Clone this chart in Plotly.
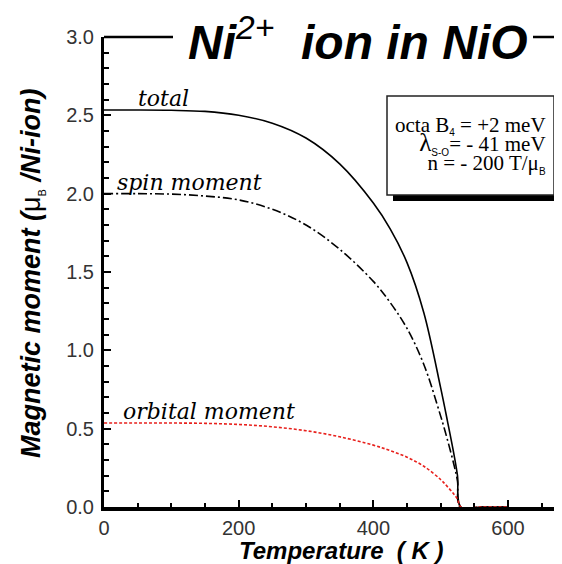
import plotly.graph_objects as go

# ---- data ----
T_total = [0, 50, 100, 150, 200, 250, 300, 350, 400, 425, 450, 475, 500, 510, 520, 525, 530, 560, 600]
M_total = [2.534, 2.534, 2.532, 2.525, 2.50, 2.45, 2.355, 2.19, 1.94, 1.775, 1.56, 1.24, 0.76, 0.55, 0.33, 0.20, 0.0, 0.0, 0.0]

T_spin = [0, 50, 100, 150, 200, 250, 300, 350, 400, 425, 450, 475, 500, 510, 520, 525, 529, 560, 600]
M_spin = [2.0, 2.0, 1.997, 1.985, 1.96, 1.90, 1.80, 1.645, 1.44, 1.305, 1.14, 0.91, 0.58, 0.43, 0.265, 0.165, 0.0, 0.0, 0.0]

T_orb = [0, 50, 100, 150, 200, 250, 300, 350, 400, 425, 450, 475, 500, 510, 520, 525, 530, 560, 600]
M_orb = [0.536, 0.536, 0.536, 0.534, 0.527, 0.512, 0.487, 0.448, 0.395, 0.36, 0.318, 0.26, 0.175, 0.13, 0.08, 0.05, 0.0, 0.0, 0.0]

x_ticks = [0, 200, 400, 600]
y_ticks = [0.0, 0.5, 1.0, 1.5, 2.0, 2.5, 3.0]
y_tick_labels = ["0.0", "0.5", "1.0", "1.5", "2.0", "2.5", "3.0"]

title_text = "<b><i>Ni</i></b><i><sup>2+</sup></i><b><i>\u00a0 ion in NiO</i></b>"
x_title = "<b><i>Temperature\u00a0\u00a0(\u00a0K\u00a0)</i></b>"
y_title = ("<b><i>Magnetic moment (</i></b>μ<sub><span style='font-size:11px'>B</span></sub>"
           "<b><i>\u00a0/Ni-ion)</i></b>")
small_sub = "<sub><span style='font-size:10px;font-family:Liberation Sans'>{}</span></sub>"
line_span = "<span style='font-size:21px'>{}</span>"
box_lines = ["octa B" + small_sub.format("4") + " = +2 meV",
             "<span style='font-size:25px'>λ</span>" + small_sub.format("S-O") + "= - 41 meV",
             "n = - 200 T/μ" + small_sub.format("B")]
box_text = "<br>".join(line_span.format(s) for s in box_lines)
curve_labels = ["total", "spin moment", "orbital moment"]

# ---- figure ----
W, H = 562, 564
L, R, T, B = 96, 0, 29, 65
pw, ph = W - L - R, H - T - B
px_per_K = 404 / 600.0


def px_x(p):
    return (p - L) / pw


def px_y(p):
    return (H - B - p) / ph


fig = go.Figure()
fig.add_trace(go.Scatter(x=T_total, y=M_total, mode="lines",
                         line=dict(color="black", width=1.6, shape="spline", smoothing=1.0)))
fig.add_trace(go.Scatter(x=T_spin, y=M_spin, mode="lines",
                         line=dict(color="black", width=1.6, dash="9px,3px,2px,3px",
                                   shape="spline", smoothing=1.0)))
fig.add_trace(go.Scatter(x=T_orb, y=M_orb, mode="lines",
                         line=dict(color="#e8201c", width=1.6, dash="3px,2px",
                                   shape="spline", smoothing=1.0)))

serif_i = dict(family="DejaVu Serif", size=22, color="black")
label_pos = [(47, M_total[0]), (17, M_spin[0]), (25, M_orb[0])]
for lab, (lx, ly) in zip(curve_labels, label_pos):
    fig.add_annotation(x=lx, y=ly, xref="x", yref="y", text="<i>" + lab + "</i>",
                       showarrow=False, xanchor="left", yanchor="bottom", yshift=-3,
                       font=serif_i)

# parameter box with shadow
fig.add_shape(type="rect", xref="paper", yref="paper",
              x0=px_x(385), x1=px_x(552), y0=px_y(193), y1=px_y(94),
              fillcolor="black", line=dict(color="black", width=0), layer="above")
fig.add_shape(type="rect", xref="paper", yref="paper",
              x0=px_x(379), x1=px_x(546), y0=px_y(187), y1=px_y(88),
              fillcolor="white", line=dict(color="#222", width=1.5), layer="above")

fig.add_annotation(x=px_x(539), y=px_y(137), xref="paper", yref="paper", text=box_text,
                   showarrow=False, xanchor="right", yanchor="middle", align="right",
                   font=dict(family="Liberation Serif", size=14.8, color="black"),
                   borderpad=0)

# top frame line interrupted by the title
fig.add_shape(type="line", xref="paper", yref="paper", x0=0, x1=px_x(165), y0=1, y1=1,
              line=dict(color="black", width=2.5))
fig.add_shape(type="line", xref="paper", yref="paper", x0=px_x(525), x1=1, y0=1, y1=1,
              line=dict(color="black", width=2.5))
fig.add_annotation(x=px_x(350), y=px_y(31), xref="paper", yref="paper", text=title_text,
                   showarrow=False, xanchor="center", yanchor="middle",
                   font=dict(family="Liberation Sans", size=48, color="black"))

fig.add_annotation(x=px_x(333), y=px_y(542), xref="paper", yref="paper", text=x_title,
                   showarrow=False, xanchor="center", yanchor="middle", borderpad=0,
                   font=dict(family="Liberation Sans", size=24, color="black"))
fig.add_annotation(x=px_x(24), y=px_y(266), xref="paper", yref="paper", text=y_title,
                   showarrow=False, xanchor="center", yanchor="middle", textangle=-90,
                   font=dict(family="Liberation Sans", size=27, color="black"))

tickfont = dict(family="Liberation Sans", size=20, color="#333")
fig.update_xaxes(range=[0, (W - L) / px_per_K], tickvals=x_ticks,
                 showline=True, linewidth=3.5, linecolor="black",
                 ticks="inside", ticklen=7, tickwidth=1.5, tickcolor="black",
                 minor=dict(dtick=50, ticks="inside", ticklen=4, tickwidth=1.5, tickcolor="black"),
                 showgrid=False, zeroline=False, tickfont=tickfont, ticklabelstandoff=0)
fig.update_yaxes(range=[0, 3.0], tickvals=y_ticks, ticktext=y_tick_labels,
                 showline=True, linewidth=3, linecolor="black",
                 ticks="inside", ticklen=7, tickwidth=1.5, tickcolor="black",
                 minor=dict(dtick=0.1, ticks="inside", ticklen=5, tickwidth=1.5, tickcolor="black"),
                 showgrid=False, zeroline=False, tickfont=tickfont, ticklabelstandoff=3)

fig.update_layout(width=W, height=H, margin=dict(l=L, r=R, t=T, b=B),
                  paper_bgcolor="white", plot_bgcolor="white", showlegend=False)

fig.write_html("out.html")
